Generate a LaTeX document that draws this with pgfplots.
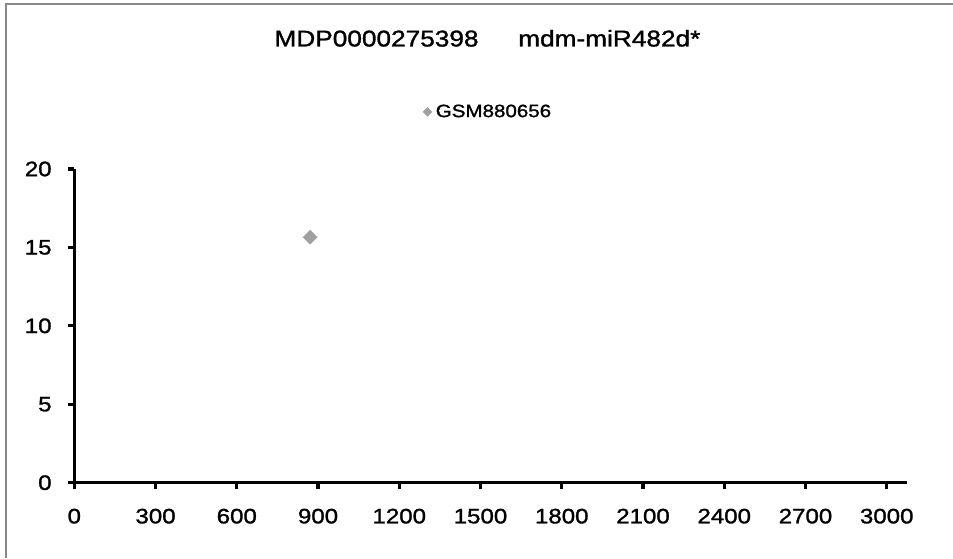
\documentclass[border=0pt]{standalone}
\usepackage{fontspec}
\setmainfont{Liberation Sans}[FakeBold=1.2]
\usepackage{graphicx}
\usepackage{pgfplots}
\pgfplotsset{compat=1.18}
\definecolor{ptgray}{HTML}{A0A0A0}
\definecolor{framegray}{HTML}{888888}
\begin{document}
\begin{tikzpicture}[x=0.75pt,y=0.75pt]
\useasboundingbox (-74.3,-75.3) rectangle (878.7,482.7);
\draw[framegray, line width=1.2pt] (-68.3,-75.3) -- (-68.3,478.7) -- (878.7,478.7);
\begin{axis}[
  at={(0,0)}, anchor=south west, scale only axis,
  width=624.75pt, height=235.3pt,
  xmin=0, xmax=3076, ymin=0, ymax=20,
  axis lines*=left,
  axis line style={line width=2.4pt, black},
  tick style={line width=2.4pt, black},
  major tick length=5pt,
  tick align=outside,
  xtick={0,300,...,3000}, ytick={0,5,...,20},
  /pgf/number format/assume math mode=true,
  /pgf/number format/set thousands separator={},
  tick label style={font=\fontsize{15.7}{18}\selectfont},
  xticklabel style={yshift=-11pt},
  yticklabel style={xshift=-8.5pt},
  xticklabel={\scalebox{1.15}[1]{\pgfmathprintnumber{\tick}}},
  yticklabel={\scalebox{1.15}[1]{\pgfmathprintnumber{\tick}}},
  title={\scalebox{1.15}[1]{MDP0000275398\hspace{25.9pt}mdm-miR482d*}},
  title style={at={(rel axis cs:0.496,1.391)}, anchor=center, font=\fontsize{17.1}{20}\selectfont},
  legend style={draw=none, fill=none, at={(rel axis cs:0.498,1.182)}, anchor=center,
    font=\fontsize{13.4}{16}\selectfont, nodes={inner sep=3pt}},
  legend image code/.code={\draw[mark=square*, mark size=2.3pt, mark options={rotate=45, fill=ptgray, draw=ptgray}] plot coordinates {(0pt,0pt)};},
  clip=false,
]
\addplot[only marks, mark=square*, mark size=3.7pt, mark options={rotate=45, fill=ptgray, draw=ptgray}] coordinates {(871,15.65)};
\addlegendentry{\scalebox{1.15}[1]{GSM880656}}
\end{axis}
\end{tikzpicture}
\end{document}
